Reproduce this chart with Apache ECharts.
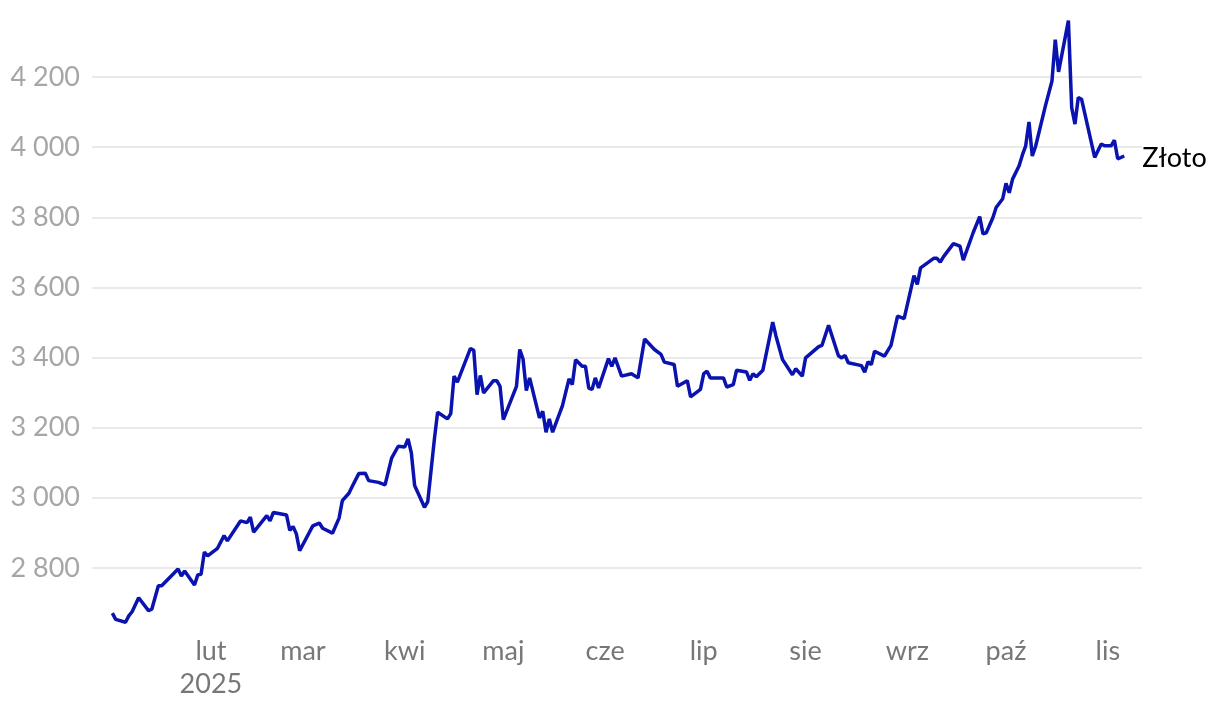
<!DOCTYPE html>
<html>
<head>
<meta charset="utf-8">
<script src="https://cdn.jsdelivr.net/npm/echarts@6/dist/echarts.min.js"></script>
<style>
  html, body { margin: 0; padding: 0; background: #fff; }
  #chart { width: 1220px; height: 712px; }
</style>
</head>
<body>
<div id="chart"></div>
<script>
// cena złota (USD/oz), odczyt z wykresu
var dates = [
  '2025-01-02','2025-01-03','2025-01-06','2025-01-07','2025-01-08','2025-01-10','2025-01-13','2025-01-14',
  '2025-01-16','2025-01-17','2025-01-22','2025-01-23','2025-01-24','2025-01-27','2025-01-28','2025-01-29',
  '2025-01-30','2025-01-31','2025-02-03','2025-02-05','2025-02-06','2025-02-10','2025-02-12','2025-02-13',
  '2025-02-14','2025-02-18','2025-02-19','2025-02-20','2025-02-24','2025-02-25','2025-02-26','2025-02-27',
  '2025-02-28','2025-03-04','2025-03-06','2025-03-07','2025-03-10','2025-03-12','2025-03-13','2025-03-15',
  '2025-03-16','2025-03-18','2025-03-20','2025-03-21','2025-03-24','2025-03-26','2025-03-28','2025-03-30',
  '2025-04-01','2025-04-02','2025-04-03','2025-04-04','2025-04-07','2025-04-08','2025-04-10','2025-04-11',
  '2025-04-14','2025-04-15','2025-04-16','2025-04-17','2025-04-21','2025-04-22','2025-04-23','2025-04-24',
  '2025-04-25','2025-04-28','2025-04-29','2025-04-30','2025-05-01','2025-05-05','2025-05-06','2025-05-07',
  '2025-05-08','2025-05-09','2025-05-12','2025-05-13','2025-05-14','2025-05-15','2025-05-16','2025-05-19',
  '2025-05-21','2025-05-22','2025-05-23','2025-05-25','2025-05-26','2025-05-27','2025-05-28','2025-05-29',
  '2025-05-30','2025-06-02','2025-06-03','2025-06-04','2025-06-06','2025-06-09','2025-06-11','2025-06-13',
  '2025-06-16','2025-06-18','2025-06-19','2025-06-22','2025-06-23','2025-06-26','2025-06-27','2025-06-30',
  '2025-07-01','2025-07-02','2025-07-03','2025-07-07','2025-07-08','2025-07-10','2025-07-11','2025-07-14',
  '2025-07-15','2025-07-16','2025-07-17','2025-07-19','2025-07-22','2025-07-23','2025-07-25','2025-07-28',
  '2025-07-29','2025-07-31','2025-08-01','2025-08-05','2025-08-06','2025-08-08','2025-08-11','2025-08-12',
  '2025-08-13','2025-08-14','2025-08-18','2025-08-19','2025-08-20','2025-08-21','2025-08-22','2025-08-25',
  '2025-08-27','2025-08-29','2025-08-31','2025-09-03','2025-09-04','2025-09-05','2025-09-09','2025-09-10',
  '2025-09-11','2025-09-12','2025-09-15','2025-09-17','2025-09-18','2025-09-21','2025-09-23','2025-09-24',
  '2025-09-25','2025-09-27','2025-09-28','2025-09-30','2025-10-01','2025-10-02','2025-10-03','2025-10-05',
  '2025-10-06','2025-10-07','2025-10-08','2025-10-09','2025-10-10','2025-10-13','2025-10-15','2025-10-16',
  '2025-10-17','2025-10-20','2025-10-21','2025-10-22','2025-10-23','2025-10-24','2025-10-28','2025-10-30',
  '2025-10-31','2025-11-02','2025-11-03','2025-11-04','2025-11-06'
];
var prices = [
  2671, 2653, 2645, 2663, 2675, 2715, 2678, 2682,
  2749, 2749, 2797, 2777, 2791, 2751, 2780, 2782,
  2845, 2834, 2856, 2892, 2877, 2934, 2929, 2945,
  2902, 2949, 2934, 2958, 2951, 2907, 2918, 2897,
  2849, 2920, 2928, 2913, 2899, 2942, 2992, 3013,
  3032, 3069, 3070, 3049, 3044, 3037, 3113, 3147,
  3145, 3168, 3128, 3035, 2973, 2989, 3166, 3244,
  3225, 3240, 3347, 3330, 3426, 3421, 3294, 3349,
  3299, 3334, 3334, 3318, 3223, 3318, 3423, 3396,
  3306, 3342, 3228, 3247, 3187, 3225, 3187, 3263,
  3339, 3323, 3394, 3375, 3375, 3313, 3309, 3342,
  3313, 3397, 3375, 3399, 3347, 3354, 3342, 3453,
  3423, 3409, 3387, 3380, 3318, 3334, 3288, 3309,
  3354, 3361, 3342, 3342, 3316, 3323, 3364, 3359,
  3335, 3354, 3345, 3364, 3501, 3461, 3394, 3351,
  3368, 3347, 3399, 3431, 3435, 3492, 3405, 3399,
  3406, 3385, 3377, 3358, 3388, 3380, 3418, 3404,
  3435, 3518, 3511, 3634, 3609, 3656, 3683, 3683,
  3672, 3688, 3725, 3718, 3678, 3756, 3802, 3753,
  3756, 3799, 3828, 3853, 3897, 3870, 3909, 3947,
  3978, 4004, 4072, 3975, 4002, 4118, 4189, 4307,
  4215, 4361, 4113, 4066, 4142, 4137, 3971, 4009,
  4004, 4004, 4020, 3967, 3975
];
var seriesName = 'Złoto';
var monthStarts = ['2025-02-01','2025-03-01','2025-04-01','2025-05-01','2025-06-01',
                   '2025-07-01','2025-08-01','2025-09-01','2025-10-01','2025-11-01'];
var monthLabels = ['lut\n2025','mar','kwi','maj','cze','lip','sie','wrz','paź','lis'];
var yTicks = [2800, 3000, 3200, 3400, 3600, 3800, 4000, 4200];

function ts(s) {
  var p = s.split('-');
  return Date.UTC(+p[0], +p[1] - 1, +p[2]);
}
var DAY = 864e5;
var jan1 = ts('2025-01-01');
var labelByTime = {};
monthStarts.forEach(function (m, i) { labelByTime[ts(m)] = monthLabels[i]; });

var chart = echarts.init(document.getElementById('chart'));
chart.setOption({
  animation: false,
  textStyle: { fontFamily: 'Lato' },
  grid: { left: 92, right: 78, top: 7, bottom: 74 },
  xAxis: {
    type: 'value',
    min: jan1 - 5.2 * DAY,
    max: jan1 + 314.4 * DAY,
    axisLine: { show: false },
    axisTick: { show: false },
    splitLine: { show: false },
    axisLabel: {
      customValues: monthStarts.map(ts),
      formatter: function (v) { return labelByTime[v] || ''; },
      color: '#777777',
      fontSize: 27,
      lineHeight: 33,
      margin: -3.5,
      fontFamily: 'Lato',
      hideOverlap: false
    }
  },
  yAxis: {
    type: 'value',
    min: 2600,
    max: 4400,
    interval: 200,
    axisLine: { show: false },
    axisTick: { show: false },
    splitLine: {
      show: true,
      showMinLine: false,
      showMaxLine: false,
      lineStyle: { color: '#e3e3e3', width: 1.5 }
    },
    axisLabel: {
      showMinLabel: false,
      showMaxLabel: false,
      color: '#a6a6a6',
      fontSize: 27,
      margin: 12,
      fontFamily: 'Lato',
      formatter: function (v) {
        if (yTicks.indexOf(v) < 0) return '';
        return String(v).replace(/\B(?=(\d{3})+(?!\d))/g, ' ');
      }
    }
  },
  series: [{
    name: seriesName,
    type: 'line',
    showSymbol: false,
    data: dates.map(function (d, i) { return [ts(d), prices[i]]; }),
    lineStyle: { color: '#0a12b0', width: 3.5 },
    itemStyle: { color: '#0a12b0' },
    endLabel: {
      show: true,
      formatter: seriesName,
      color: '#000000',
      fontSize: 27,
      fontFamily: 'Lato',
      distance: 18,
      offset: [0, 2]
    }
  }]
});
</script>
</body>
</html>
